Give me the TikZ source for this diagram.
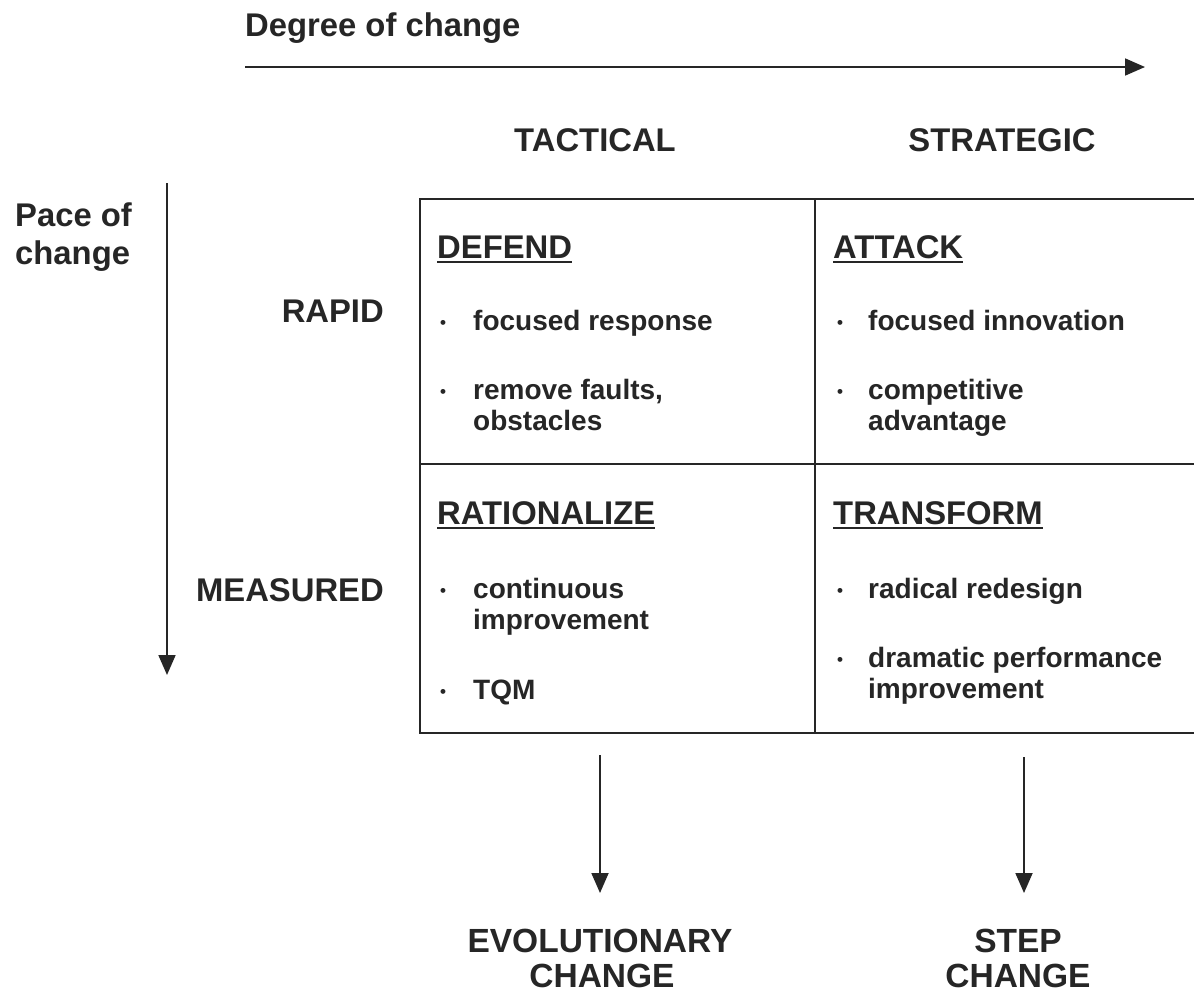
\documentclass[tikz,border=0pt]{standalone}
\usepackage{fontspec}
\setmainfont{Liberation Sans}
\usetikzlibrary{arrows.meta}
\begin{document}
\begin{tikzpicture}[x=1pt,y=-1pt,
  hd/.style={font=\fontsize{32.8pt}{33pt}\selectfont\bfseries, inner sep=0pt, text=black!85},
  bt/.style={font=\fontsize{33.5pt}{34pt}\selectfont\bfseries, inner sep=0pt, anchor=base, text=black!85},
  bd/.style={font=\fontsize{28pt}{31pt}\selectfont\bfseries, inner sep=0pt, anchor=base west, text=black!85},
  bul/.style={font=\fontsize{17pt}{17pt}\selectfont\bfseries, inner sep=0pt, anchor=base, text=black!85},
  arr/.style={line width=1.8pt, draw=black!85, -{Triangle[length=20pt,width=17pt]}},
  gridline/.style={line width=1.8pt, draw=black!85},
  uline/.style={line width=2.2pt, draw=black!85}]
\useasboundingbox (0,0) rectangle (1194,994);
\fill[white] (0,0) rectangle (1194,994);

% top axis
\node[hd, anchor=base west] (deg) at (245,36) {Degree of change};
\coordinate (degS) at (245,67);
\coordinate (degE) at (1145,67);
\draw[arr] (degS) -- (degE);
\node[hd, anchor=base] (tac) at (595,151) {TACTICAL};
\node[hd, anchor=base] (str) at (1002,151) {STRATEGIC};

% left axis
\node[hd, anchor=base west] (pace1) at (15,226) {Pace of};
\node[hd, anchor=base west] (pace2) at (15,264) {change};
\coordinate (paceS) at (167,183);
\coordinate (paceE) at (167,675);
\draw[arr] (paceS) -- (paceE);
\node[hd, anchor=base east] (rapid) at (384,322) {RAPID};
\node[hd, anchor=base east] (meas) at (384,601) {MEASURED};

% grid
\draw[gridline] (1194,199) -- (420,199) -- (420,733) -- (1194,733);
\draw[gridline] (420,464) -- (1194,464);
\draw[gridline] (815,199) -- (815,733);

% DEFEND
\node[hd, anchor=base west] (defend) at (437,258) {DEFEND};
\draw[uline] ([yshift=-4pt]defend.base west) -- ([yshift=-4pt]defend.base east);
\node[bul] (b1) at (443,328) {•};
\node[bd] (t1) at (473,330) {focused response};
\node[bul] (b2) at (443,397) {•};
\node[bd] (t2) at (473,399) {remove faults,};
\node[bd] (t2b) at (473,430) {obstacles};

% ATTACK
\node[hd, anchor=base west] (attack) at (833,258) {ATTACK};
\draw[uline] ([yshift=-4pt]attack.base west) -- ([yshift=-4pt]attack.base east);
\node[bul] (b3) at (840,328) {•};
\node[bd] (t3) at (868,330) {focused innovation};
\node[bul] (b4) at (840,397) {•};
\node[bd] (t4) at (868,399) {competitive};
\node[bd] (t4b) at (868,430) {advantage};

% RATIONALIZE
\node[hd, anchor=base west] (ration) at (437,524) {RATIONALIZE};
\draw[uline] ([yshift=-4pt]ration.base west) -- ([yshift=-4pt]ration.base east);
\node[bul] (b5) at (443,596) {•};
\node[bd] (t5) at (473,598) {continuous};
\node[bd] (t5b) at (473,629) {improvement};
\node[bul] (b6) at (443,697) {•};
\node[bd] (t6) at (473,699) {TQM};

% TRANSFORM
\node[hd, anchor=base west] (transf) at (833,524) {TRANSFORM};
\draw[uline] ([yshift=-4pt]transf.base west) -- ([yshift=-4pt]transf.base east);
\node[bul] (b7) at (840,596) {•};
\node[bd] (t7) at (868,598) {radical redesign};
\node[bul] (b8) at (840,665) {•};
\node[bd] (t8) at (868,667) {dramatic performance};
\node[bd] (t8b) at (868,698) {improvement};

% bottom
\coordinate (evS) at (600,755);
\coordinate (evE) at (600,893);
\draw[arr] (evS) -- (evE);
\coordinate (stS) at (1024,757);
\coordinate (stE) at (1024,893);
\draw[arr] (stS) -- (stE);
\node[bt] (evo1) at (600,952) {EVOLUTIONARY};
\node[bt] (evo2) at (602,987) {CHANGE};
\node[bt] (step1) at (1018,952) {STEP};
\node[bt] (step2) at (1018,987) {CHANGE};
\end{tikzpicture}
\end{document}
